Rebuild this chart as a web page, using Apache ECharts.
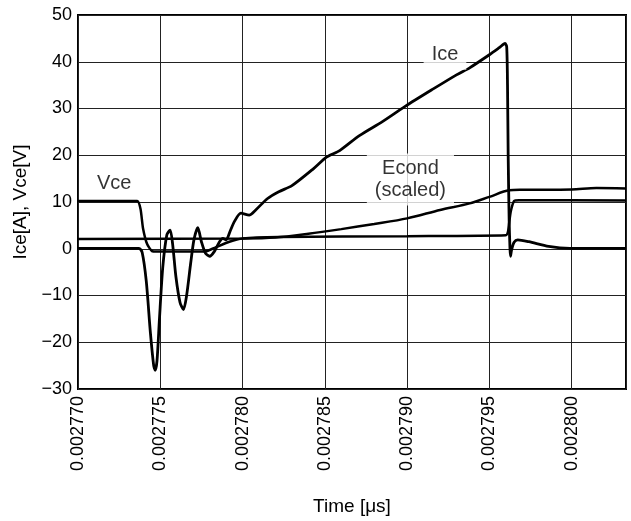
<!DOCTYPE html>
<html>
<head>
<meta charset="utf-8">
<script src="https://cdn.jsdelivr.net/npm/echarts@6/dist/echarts.min.js"></script>
<style>
    html, body { margin: 0; padding: 0; background: #fff; }
    #main { width: 631px; height: 521px; }
</style>
</head>
<body>
<div id="main"></div>
<script>
// time values are in units of 1e-6 (2770 -> 0.002770)
var xTicks = [2770, 2775, 2780, 2785, 2790, 2795, 2800];
var yTicks = [-30, -20, -10, 0, 10, 20, 30, 40, 50];

var iceT = [2770, 2773.7, 2773.9, 2774.15, 2774.4, 2774.6, 2774.69, 2774.8, 2774.95, 2775.15, 2775.4, 2775.6,
    2775.75, 2775.95, 2776.2, 2776.41, 2776.6, 2776.85, 2777.05, 2777.28, 2777.5, 2777.75, 2778.0, 2778.3,
    2778.6, 2778.8, 2779.0, 2779.25, 2779.5, 2779.9, 2780.4, 2780.8, 2781.5, 2782.2, 2783.0, 2784.3, 2785.1,
    2785.9, 2787.1, 2788.5, 2789.9, 2791.5, 2793.0, 2793.8, 2795.0, 2795.6, 2795.95, 2796.05, 2796.1, 2796.14,
    2796.2, 2796.25, 2796.28, 2796.35, 2796.5, 2796.72, 2797.4, 2798.6, 2799.9, 2803.3];
var iceV = [0.1, 0.1, -0.8, -7, -18, -25, -26, -24, -15, -4, 3, 4.0,
    1, -6, -11.5, -13, -10, -3, 2, 4.5, 1.5, -1, -1.6, -0.5,
    1.5, 2.2, 1.9, 3.8, 5.8, 7.6, 7.2, 8.3, 10.7, 12.2, 13.5, 17.1, 19.6,
    21.0, 24.2, 27.2, 30.5, 34.0, 37.2, 38.7, 41.5, 43.0, 43.9, 43.2, 35, 20,
    6, 0, -1.6, -0.2, 1.4, 1.9, 1.5, 0.5, 0.1, 0.1];

var vceT = [2770, 2773.6, 2773.8, 2773.95, 2774.2, 2774.5, 2774.8, 2777.7, 2778.3, 2779.2, 2780.0, 2782.2,
    2790, 2796.0, 2796.12, 2796.2, 2796.3, 2796.5, 2796.8, 2803.3];
var vceV = [10.2, 10.2, 8.5, 4.4, 1.0, -0.5, -0.6, -0.6, 0.2, 1.5, 2.2, 2.5,
    2.7, 2.9, 3.5, 5.5, 8, 10.2, 10.4, 10.3];

var econdT = [2770, 2780, 2782, 2784, 2786, 2788, 2790, 2792, 2793.8, 2795, 2796.2, 2797, 2800, 2801.5, 2803.3];
var econdV = [2.1, 2.2, 2.4, 3.2, 4.2, 5.3, 6.5, 8.3, 9.7, 11.1, 12.5, 12.6, 12.7, 13.0, 12.9];

var noteText = ['Vce', 'Ice', 'Econd\n(scaled)'];
var noteT = [2772.2, 2792.3, 2790.2];
var noteV = [13.9, 41.5, 14.8];

function pairs(t, v) {
    var out = [];
    for (var i = 0; i < t.length; i++) {
        out.push([t[i], v[i]]);
    }
    return out;
}

var notes = [];
for (var i = 0; i < noteText.length; i++) {
    notes.push({ value: [noteT[i], noteV[i]], name: noteText[i] });
}

var font = 'Liberation Sans, Arial, sans-serif';
var myChart = echarts.init(document.getElementById('main'));
var option = {
    animation: false,
    backgroundColor: '#fff',
    grid: {
        left: 78,
        right: 5,
        top: 15,
        bottom: 129,
        show: true,
        borderColor: '#000',
        borderWidth: 2
    },
    xAxis: {
        type: 'value',
        min: xTicks[0],
        max: 2803.3,
        interval: 5,
        name: 'Time [\u03bcs]',
        nameLocation: 'middle',
        nameGap: 108,
        nameTextStyle: { color: '#000', fontSize: 19, fontFamily: font },
        axisLine: { show: false },
        axisTick: { show: false },
        axisLabel: {
            rotate: 90,
            margin: 7,
            showMaxLabel: false,
            color: '#000',
            fontSize: 18,
            fontFamily: font,
            formatter: function(v) {
                return (v / 1e6).toFixed(6);
            }
        },
        splitLine: { show: true, lineStyle: { color: '#222', width: 1 } }
    },
    yAxis: {
        type: 'value',
        min: yTicks[0],
        max: yTicks[yTicks.length - 1],
        interval: 10,
        name: 'Ice[A], Vce[V]',
        nameLocation: 'middle',
        nameGap: 48,
        nameTextStyle: { color: '#000', fontSize: 19, fontFamily: font },
        axisLine: { show: false },
        axisTick: { show: false },
        axisLabel: {
            margin: 6,
            color: '#000',
            fontSize: 18,
            fontFamily: font,
            formatter: function(v) {
                return v < 0 ? '\u2212' + Math.abs(v) : '' + v;
            }
        },
        splitLine: { show: true, lineStyle: { color: '#222', width: 1 } }
    },
    series: [{
        name: 'Econd',
        type: 'line',
        showSymbol: false,
        smooth: 0.3,
        lineStyle: { color: '#000', width: 2.5 },
        data: pairs(econdT, econdV)
    }, {
        name: 'Vce',
        type: 'line',
        showSymbol: false,
        smooth: 0.2,
        lineStyle: { color: '#000', width: 2.5 },
        data: pairs(vceT, vceV)
    }, {
        name: 'Ice',
        type: 'line',
        showSymbol: false,
        smooth: 0.25,
        lineStyle: { color: '#000', width: 2.8 },
        data: pairs(iceT, iceV)
    }, {
        name: 'notes',
        type: 'scatter',
        symbolSize: 0,
        z: 5,
        label: {
            show: true,
            position: 'inside',
            formatter: '{b}',
            color: '#000',
            fontSize: 20,
            lineHeight: 22,
            fontFamily: font,
            align: 'center',
            backgroundColor: '#fff',
            padding: [4, 8]
        },
        data: notes
    }]
};
myChart.setOption(option, true);
</script>
</body>
</html>
